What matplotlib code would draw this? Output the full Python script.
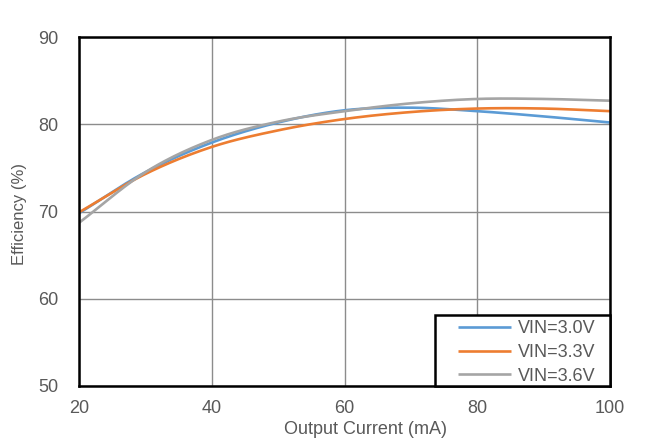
import numpy as np
import matplotlib
matplotlib.use("Agg")
import matplotlib.pyplot as plt
from matplotlib.patches import Rectangle

plt.rcParams['font.family'] = ['Liberation Sans', 'DejaVu Sans']

current = [20, 30, 40, 50, 60, 70, 80, 90, 100]
eff_30 = [69.8, 74.5, 77.9, 80.2, 81.6, 81.9, 81.5, 80.9, 80.2]
eff_33 = [69.9, 74.3, 77.4, 79.3, 80.6, 81.4, 81.8, 81.8, 81.5]
eff_36 = [68.7, 74.5, 78.2, 80.3, 81.5, 82.4, 82.9, 82.9, 82.7]
labels = ["VIN=3.0V", "VIN=3.3V", "VIN=3.6V"]
colors = ["#5B9BD5", "#ED7D31", "#A5A5A5"]
TXT = "#595959"


def smooth(x, y, n=30):
    # Catmull-Rom style smoothing (like Excel smoothed lines)
    x = np.asarray(x, float); y = np.asarray(y, float)
    px = np.concatenate([[2 * x[0] - x[1]], x, [2 * x[-1] - x[-2]]])
    py = np.concatenate([[2 * y[0] - y[1]], y, [2 * y[-1] - y[-2]]])
    xs, ys = [], []
    for i in range(1, len(px) - 2):
        t = np.linspace(0, 1, n, endpoint=(i == len(px) - 3))
        for P, out in ((px, xs), (py, ys)):
            p0, p1, p2, p3 = P[i - 1], P[i], P[i + 1], P[i + 2]
            out.extend(0.5 * ((2 * p1) + (-p0 + p2) * t + (2 * p0 - 5 * p1 + 4 * p2 - p3) * t ** 2
                              + (-p0 + 3 * p1 - 3 * p2 + p3) * t ** 3))
    return np.array(xs), np.array(ys)


W, H = 657, 445
fig = plt.figure(figsize=(W / 100, H / 100), dpi=100)
L, R, T, B = 79, 610, 37, 386
ax = fig.add_axes([L / W, 1 - B / H, (R - L) / W, (B - T) / H])

for y, lab, c in zip([eff_30, eff_33, eff_36], labels, colors):
    sx, sy = smooth(current, y)
    ax.plot(sx, sy, color=c, lw=1.9, label=lab, solid_capstyle='butt')

ax.set_xlim(20, 100)
ax.set_ylim(50, 90)
ax.set_xticks([20, 40, 60, 80, 100])
ax.set_yticks([50, 60, 70, 80, 90])
ax.grid(True, color="#8C8C8C", lw=1.0)
ax.set_axisbelow(True)
for s in ax.spines.values():
    s.set_color("black")
    s.set_linewidth(1.8)
ax.tick_params(length=0, labelsize=13, colors=TXT)
ax.tick_params(axis='y', pad=15)
ax.tick_params(axis='x', pad=10)

fig.text(366 / W, 1 - 429 / H, "Output Current (mA)", fontsize=13, color=TXT,
         ha='center', va='center')
fig.text(20 / W, 1 - 214 / H, "Efficiency (%)", fontsize=12, color=TXT,
         ha='center', va='center', rotation=90)

# legend box
x0 = (435 - L) / (R - L)
y1 = (B - 315) / (B - T)
ax.add_patch(Rectangle((x0, 0), 1 - x0, y1, transform=ax.transAxes, fill=True,
                       facecolor='white', edgecolor='black', lw=1.8, zorder=5, clip_on=False))
leg = ax.legend(loc="upper left", bbox_to_anchor=((458 - L) / (R - L), (B - 320) / (B - T)),
                fontsize=13, frameon=False, borderpad=0, labelspacing=0.38,
                handlelength=2.95, handletextpad=0.35, borderaxespad=0)
leg.set_zorder(6)
for t in leg.get_texts():
    t.set_color(TXT)

fig.savefig("out.png", dpi=100)
